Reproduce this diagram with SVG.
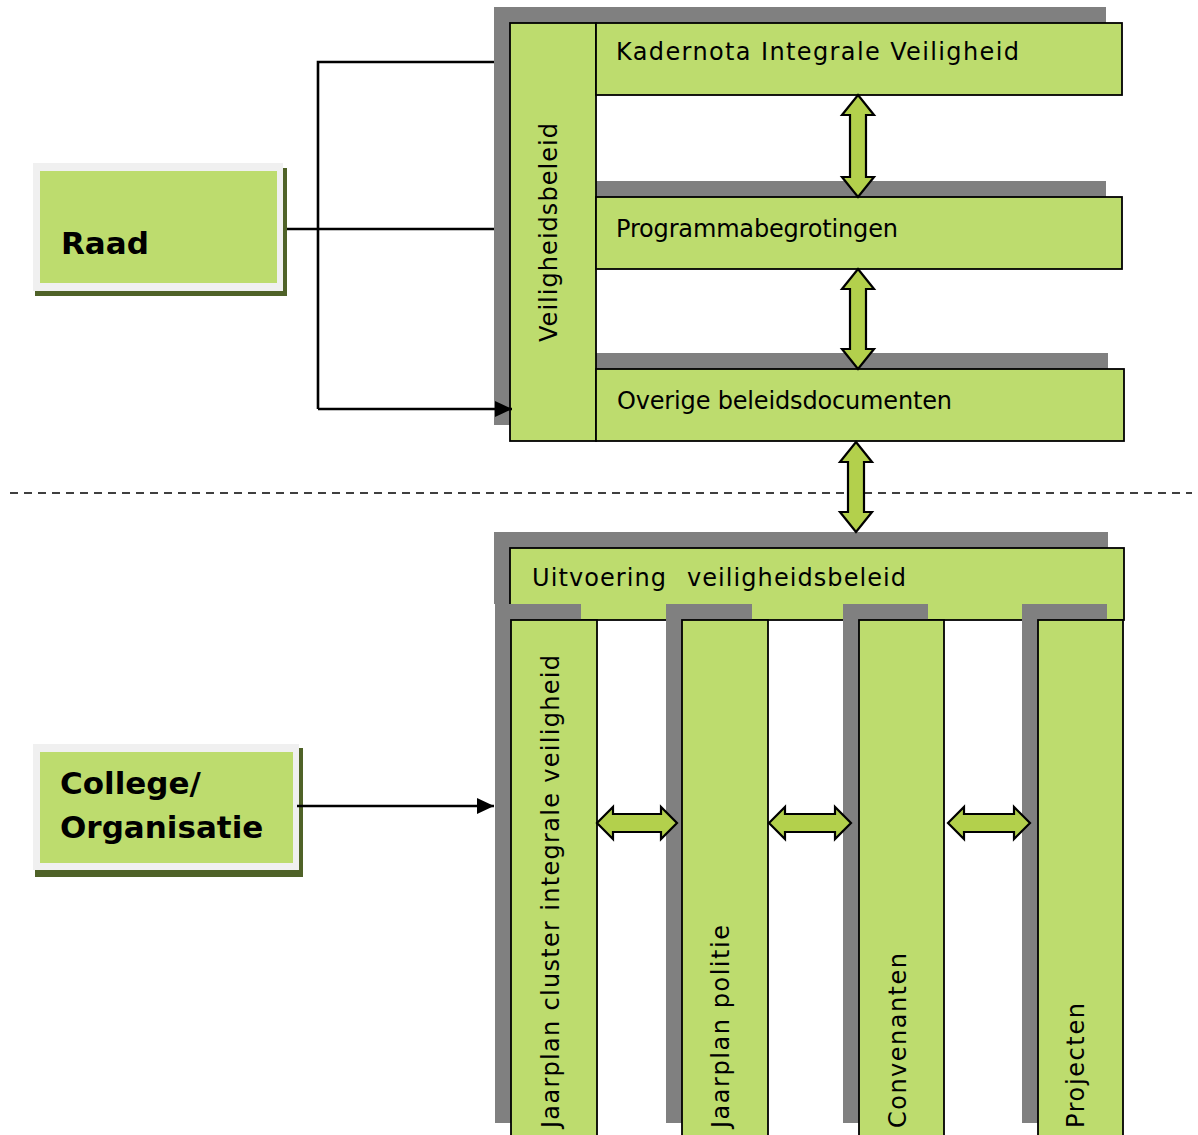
<svg xmlns="http://www.w3.org/2000/svg" width="1198" height="1135" viewBox="0 0 1198 1135">
<defs>
<style>
.sh{fill:#808080}
.bx{fill:#bddc6e;stroke:#000;stroke-width:1.8}
.t{font-family:"DejaVu Sans",Verdana,sans-serif;font-size:24px;fill:#000}
.tv{font-family:"DejaVu Sans",Verdana,sans-serif;font-size:24px;fill:#000}
.tb{font-family:"DejaVu Sans",Verdana,sans-serif;font-size:31px;font-weight:bold;fill:#000}
.dar{fill:#b3d04c;stroke:#000;stroke-width:2.2;stroke-linejoin:miter}
.ln{fill:none;stroke:#000;stroke-width:2.6}
</style>
<marker id="ah" markerWidth="17" markerHeight="16" refX="17" refY="8" orient="auto" markerUnits="userSpaceOnUse">
<path d="M0,0 L17,8 L0,16 Z" fill="#000"/>
</marker>
</defs>
<rect width="1198" height="1135" fill="#fff"/>

<g id="raad">
<rect x="35" y="168" width="252" height="128" fill="#4f6228"/>
<rect x="33" y="163" width="250" height="128" fill="#f0f0f0"/>
<rect x="40" y="171" width="237" height="112" fill="#bddc6e"/>
<text class="tb" x="61" y="254">Raad</text>
</g>

<g id="college">
<rect x="35" y="748" width="268" height="129" fill="#4f6228"/>
<rect x="33" y="744" width="266" height="126" fill="#f0f0f0"/>
<rect x="40" y="752" width="253" height="111" fill="#bddc6e"/>
<text class="tb" x="60" y="794">College/</text>
<text class="tb" x="60" y="838">Organisatie</text>
</g>

<g id="veiligheidsbeleid">
<rect class="sh" x="494" y="7" width="86" height="418"/>
<rect class="sh" x="580" y="7" width="526" height="72"/>
<rect class="sh" x="580" y="181" width="526" height="72"/>
<rect class="sh" x="580" y="353" width="528" height="72"/>
<rect class="bx" x="510" y="23" width="86" height="418"/>
<text class="tv" transform="translate(557,342) rotate(-90)" textLength="219" lengthAdjust="spacing">Veiligheidsbeleid</text>
</g>

<g id="kadernota">
<rect class="bx" x="596" y="23" width="526" height="72"/>
<text class="t" x="616" y="60" textLength="403" lengthAdjust="spacing">Kadernota Integrale Veiligheid</text>
</g>

<g id="programmabegrotingen">
<rect class="bx" x="596" y="197" width="526" height="72"/>
<text class="t" x="616" y="237" textLength="282" lengthAdjust="spacing">Programmabegrotingen</text>
</g>

<g id="overige">
<rect class="bx" x="596" y="369" width="528" height="72"/>
<text class="t" x="617" y="409" textLength="335" lengthAdjust="spacing">Overige beleidsdocumenten</text>
</g>

<g id="uitvoering">
<rect class="sh" x="494" y="532" width="614" height="72"/>
<rect class="bx" x="510" y="548" width="614" height="72"/>
<text class="t" x="532" y="586" textLength="134" lengthAdjust="spacing">Uitvoering</text>
<text class="t" x="687" y="586" textLength="219" lengthAdjust="spacing">veiligheidsbeleid</text>
</g>

<g id="jaarplan-cluster">
<rect class="sh" x="495" y="604" width="86" height="519"/>
<rect class="bx" x="511" y="620" width="86" height="530"/>
<text class="tv" transform="translate(559,1128) rotate(-90)" textLength="473" lengthAdjust="spacing">Jaarplan cluster integrale veiligheid</text>
</g>

<g id="jaarplan-politie">
<rect class="sh" x="666" y="604" width="86" height="519"/>
<rect class="bx" x="682" y="620" width="86" height="530"/>
<text class="tv" transform="translate(729,1128) rotate(-90)" textLength="203" lengthAdjust="spacing">Jaarplan politie</text>
</g>

<g id="convenanten">
<rect class="sh" x="843" y="604" width="85" height="519"/>
<rect class="bx" x="859" y="620" width="85" height="530"/>
<text class="tv" transform="translate(906,1128) rotate(-90)" textLength="175" lengthAdjust="spacing">Convenanten</text>
</g>

<g id="projecten">
<rect class="sh" x="1022" y="604" width="85" height="519"/>
<rect class="bx" x="1038" y="620" width="85" height="530"/>
<text class="tv" transform="translate(1084,1128) rotate(-90)" textLength="125" lengthAdjust="spacing">Projecten</text>
</g>

<g id="connectors">
<line x1="10" y1="493" x2="1192" y2="493" stroke="#000" stroke-width="1.6" stroke-dasharray="8 6"/>
<polyline class="ln" points="494,62 318,62 318,409"/>
<line class="ln" x1="287" y1="229" x2="494" y2="229"/>
<line class="ln" x1="318" y1="409" x2="512" y2="409" marker-end="url(#ah)"/>
<line class="ln" x1="297" y1="806" x2="494" y2="806" marker-end="url(#ah)"/>
<path class="dar" d="M858,95 L874,115 L866,115 L866,177 L874,177 L858,197 L842,177 L850,177 L850,115 L842,115 Z"/>
<path class="dar" d="M858,269 L874,289 L866,289 L866,349 L874,349 L858,369 L842,349 L850,349 L850,289 L842,289 Z"/>
<path class="dar" d="M856,442 L872,462 L864,462 L864,512 L872,512 L856,532 L840,512 L848,512 L848,462 L840,462 Z"/>
<path class="dar" d="M597,823 L613,807 L613,814 L661,814 L661,807 L677,823 L661,839 L661,832 L613,832 L613,839 Z"/>
<path class="dar" d="M769,823 L785,807 L785,814 L835,814 L835,807 L851,823 L835,839 L835,832 L785,832 L785,839 Z"/>
<path class="dar" d="M948,823 L964,807 L964,814 L1014,814 L1014,807 L1030,823 L1014,839 L1014,832 L964,832 L964,839 Z"/>
</g>
</svg>
